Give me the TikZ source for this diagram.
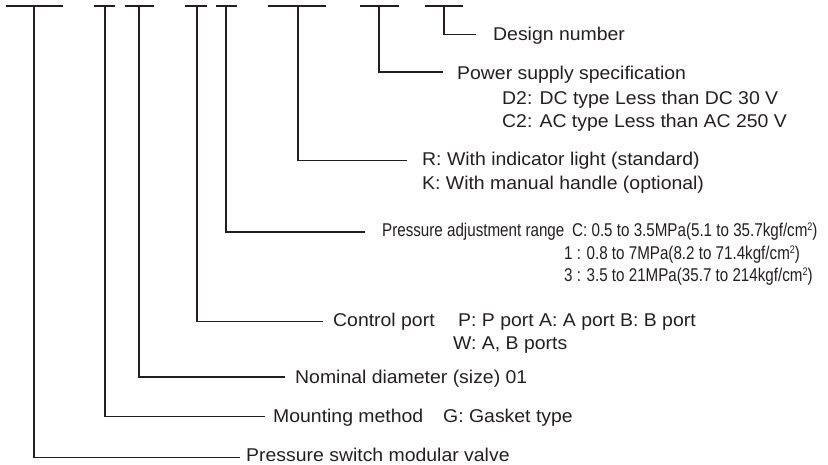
\documentclass[tikz,border=0pt]{standalone}
\usepackage{fontspec}
\setmainfont{Liberation Sans}[FakeStretch=1.05]
\newfontfamily\narrowfont{Liberation Sans}[FakeStretch=0.82]
\definecolor{ink}{HTML}{231F20}
\newcommand{\sqsup}{\raisebox{5.5pt}{\fontsize{11}{11}\selectfont 2}}
\begin{document}
\begin{tikzpicture}[x=1pt,y=-1pt,
  lead/.style={draw=ink, line width=1.2pt},
  bar/.style={draw=ink, line width=1.2pt},
  lbl/.style={anchor=base west, inner sep=0pt, text=ink, font=\fontsize{18.5}{22}\selectfont},
  nlbl/.style={anchor=base west, inner sep=0pt, text=ink, font=\fontsize{18.5}{22}\selectfont\narrowfont}]
\useasboundingbox (0,0) rectangle (828,464);

% top bars (segments of the model code)
\draw[bar] (6,6) -- (63,6);
\draw[bar] (94,6) -- (115,6);
\draw[bar] (125,6) -- (154,6);
\draw[bar] (185,6) -- (207,6);
\draw[bar] (216,6) -- (237,6);
\draw[bar] (268,6) -- (326,6);
\draw[bar] (360,6) -- (399,6);
\draw[bar] (425,6) -- (463,6);

% lead starts
\coordinate (v1) at (34,6);
\coordinate (v2) at (105,6);
\coordinate (v3) at (139,6);
\coordinate (v4) at (197,6);
\coordinate (v5) at (226,6);
\coordinate (v6) at (298,6);
\coordinate (v7) at (379,6);
\coordinate (v8) at (444,6);

% lead ends
\coordinate (e8) at (476,34.3);
\coordinate (e7) at (443,72);
\coordinate (e6) at (407,160.5);
\coordinate (e5) at (365,232);
\coordinate (e4) at (323,321.7);
\coordinate (e3) at (285,377);
\coordinate (e2) at (265,416.7);
\coordinate (e1) at (240,457.3);

% labels
\node[lbl] (design) at (493,40) {Design number};
\node[lbl] (power) at (457,79) {Power supply specification};
\node[lbl] (d2) at (502,104) {D2: DC type Less than DC 30 V};
\node[lbl] (c2) at (502,127) {C2: AC type Less than AC 250 V};
\node[lbl] (r) at (422,165) {R: With indicator light (standard)};
\node[lbl] (k) at (422,189) {K: With manual handle (optional)};
\node[nlbl] (press) at (382,236) {Pressure adjustment range};
\node[nlbl] (pc) at (572,236) {C: 0.5 to 3.5MPa(5.1 to 35.7kgf/cm\sqsup)};
\node[nlbl] (p1) at (564,259) {1 : 0.8 to 7MPa(8.2 to 71.4kgf/cm\sqsup)};
\node[nlbl] (p3) at (564,281) {3 : 3.5 to 21MPa(35.7 to 214kgf/cm\sqsup)};
\node[lbl] (ctrl) at (333,326) {Control port};
\node[lbl] (ports) at (458,326) {P: P port A: A port B: B port};
\node[lbl] (wports) at (453,349) {W: A, B ports};
\node[lbl] (nom) at (295,383) {Nominal diameter (size) 01};
\node[lbl] (mount) at (273,422) {Mounting method};
\node[lbl] (gasket) at (443,422) {G: Gasket type};
\node[lbl] (valve) at (246,461.5) {Pressure switch modular valve};

% leaders
\draw[lead] (v8) |- (e8);
\draw[lead] (v7) |- (e7);
\draw[lead] (v6) |- (e6);
\draw[lead] (v5) |- (e5);
\draw[lead] (v4) |- (e4);
\draw[lead] (v3) |- (e3);
\draw[lead] (v2) |- (e2);
\draw[lead] (v1) |- (e1);
\end{tikzpicture}
\end{document}
